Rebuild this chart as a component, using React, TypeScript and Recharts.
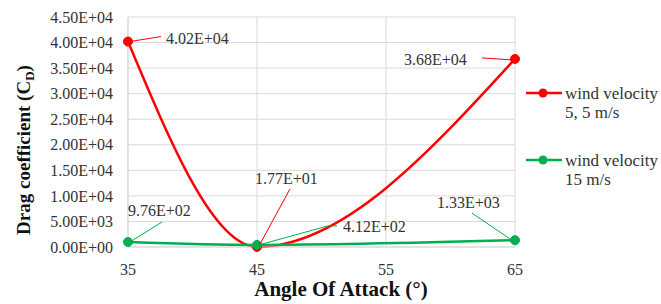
import React from 'react';
import { LineChart, Line, XAxis, YAxis, CartesianGrid, LabelList, Customized } from 'recharts';

const angles = [35, 45, 65];
const dragWind55 = [40200, 17.7, 36800];
const dragWind15 = [976, 412, 1330];
const labelsWind55 = ['4.02E+04', '1.77E+01', '3.68E+04'];
const labelsWind15 = ['9.76E+02', '4.12E+02', '1.33E+03'];
const xTicks = [35, 45, 55, 65];
const yTicks = [0, 5000, 10000, 15000, 20000, 25000, 30000, 35000, 40000, 45000];
const yTickLabels = ['0.00E+00', '5.00E+03', '1.00E+04', '1.50E+04', '2.00E+04', '2.50E+04', '3.00E+04', '3.50E+04', '4.00E+04', '4.50E+04'];
const legendLines = [['wind velocity', '5, 5 m/s'], ['wind velocity', '15 m/s']];
const xTitle = 'Angle Of Attack (°)';
const yTitleMain = 'Drag coefficient (C';
const yTitleSub = 'D';

const RED = '#ff0000';
const GREEN = '#00b050';
const FONT = 'Liberation Serif, Tinos, serif';
const TEXT = '#333333';

const data = angles.map((a, i) => ({ angle: a, w55: dragWind55[i], w15: dragWind15[i] }));

type Off = { tx: number; ty: number; path: number[][] };
const offs55: Off[] = [
  { tx: 38, ty: -3, path: [[2, 0], [33, -5]] },
  { tx: -2, ty: -69, path: [[2, -1], [33, -58]] },
  { tx: -111, ty: 0, path: [[-3, 1], [-33, -1]] },
];
const offs15: Off[] = [
  { tx: 0, ty: -32, path: [[2, 0], [34, -20]] },
  { tx: 86, ty: -18, path: [[2, 0], [71, -19], [80, -19]] },
  { tx: -78, ty: -38, path: [[-3, 0], [-43, -27]] },
];

const txtStyle = { fontFamily: FONT };

const makeAnnot = (labels: string[], offs: Off[], color: string) => (props: any) => {
  const { x, y, index } = props;
  const o = offs[index];
  if (!o || x == null || y == null) return null;
  const pts = o.path.map(([dx, dy]) => `${x + dx},${y + dy}`).join(' ');
  return (
    <g>
      <polyline points={pts} fill="none" stroke={color} strokeWidth={1} />
      <text x={x + o.tx} y={y + o.ty} dy="0.35em" style={txtStyle} fontSize={16} fill={TEXT}>
        {labels[index]}
      </text>
    </g>
  );
};

const Extras = () => (
  <g>
    <text
      transform="rotate(-90, 23, 150)"
      x={23}
      y={150}
      dy="0.35em"
      textAnchor="middle"
      style={txtStyle}
      fontWeight="bold"
      fontSize={19}
      fill="#111"
    >
      {yTitleMain}
      <tspan dy={4} fontSize={13}>{yTitleSub}</tspan>
      <tspan dy={-4}>)</tspan>
    </text>
    <text x={341} y={289} dy="0.35em" textAnchor="middle" style={txtStyle} fontWeight="bold" fontSize={21} fill="#111">
      {xTitle}
    </text>
    {[RED, GREEN].map((c, i) => {
      const cy = i === 0 ? 93 : 160;
      return (
        <g key={i}>
          <line x1={526} x2={562} y1={cy} y2={cy} stroke={c} strokeWidth={2.5} />
          <circle cx={543} cy={cy} r={4.5} fill={c} />
          <text x={565} y={cy} dy="0.35em" style={txtStyle} fontSize={17} fill={TEXT}>{legendLines[i][0]}</text>
          <text x={565} y={cy + 19} dy="0.35em" style={txtStyle} fontSize={17} fill={TEXT}>{legendLines[i][1]}</text>
        </g>
      );
    })}
  </g>
);

export default function App() {
  return (
    <div style={{ position: 'absolute', left: 0, top: 0, background: '#fff', fontFamily: FONT }}>
      <LineChart width={661} height={304} data={data} margin={{ top: 17, right: 146, bottom: 0, left: 0 }}>
        <CartesianGrid stroke="#d9d9d9" strokeWidth={1} />
        <XAxis
          dataKey="angle"
          type="number"
          domain={[35, 65]}
          ticks={xTicks}
          height={57}
          tickLine={false}
          axisLine={{ stroke: '#d9d9d9' }}
          tickMargin={11}
          tick={{ fontSize: 16, fill: TEXT, style: txtStyle }}
        />
        <YAxis
          type="number"
          domain={[0, 45000]}
          ticks={yTicks}
          width={128}
          tickLine={false}
          axisLine={{ stroke: '#d9d9d9' }}
          tickMargin={9}
          tickFormatter={(v: number) => yTickLabels[yTicks.indexOf(v)]}
          tick={{ fontSize: 16, fill: TEXT, style: txtStyle }}
          interval={0}
        />
        <Line
          dataKey="w55"
          type="monotone"
          stroke={RED}
          strokeWidth={2.5}
          dot={{ r: 4.5, fill: RED, stroke: RED, strokeWidth: 1 }}
          isAnimationActive={false}
        >
          <LabelList dataKey="w55" content={makeAnnot(labelsWind55, offs55, RED)} />
        </Line>
        <Line
          dataKey="w15"
          type="monotone"
          stroke={GREEN}
          strokeWidth={2.5}
          dot={{ r: 4.5, fill: GREEN, stroke: GREEN, strokeWidth: 1 }}
          isAnimationActive={false}
        >
          <LabelList dataKey="w15" content={makeAnnot(labelsWind15, offs15, GREEN)} />
        </Line>
        <Customized component={Extras} />
      </LineChart>
    </div>
  );
}
